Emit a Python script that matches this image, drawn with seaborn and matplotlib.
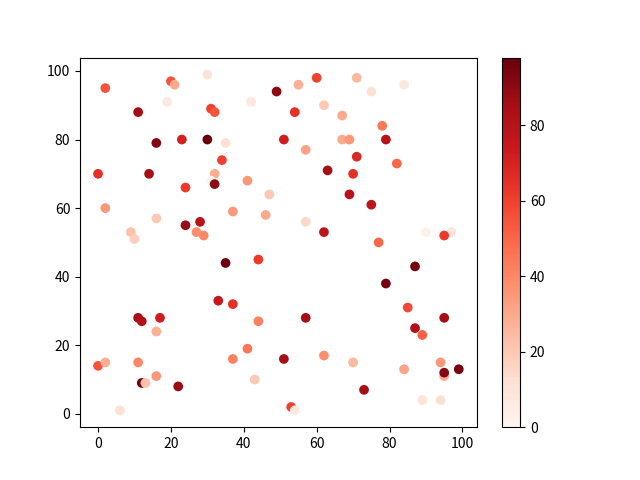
import matplotlib
matplotlib.use("Agg")
import matplotlib.pyplot as plt
import numpy as np
import pandas as pd
import seaborn as sns

plt.rcParams["font.family"] = ["Noto Sans CJK SC", "DejaVu Sans"]

# point positions and colour values
x = [2, 20, 21, 30, 49, 19, 42, 31, 32, 11, 16, 23, 30, 35, 34, 0, 14, 32, 24, 31,
     32, 41, 47, 2, 16, 37, 46, 24, 28, 27, 29, 9, 10,
     55, 60, 71, 84, 75, 54, 62, 67, 78, 51, 67, 69, 79, 57, 71, 82, 63, 70, 69,
     75, 57, 62, 90, 97, 95, 77,
     35, 44, 33, 37, 11, 12, 17, 16, 44, 41, 37, 0, 2, 11, 16, 12, 13, 22, 43, 6, 51,
     87, 79, 85, 57, 95, 87, 89, 62, 70, 84, 94, 95, 95, 99, 73, 89, 94, 53, 54]
y = [95, 97, 96, 99, 94, 91, 91, 89, 88, 88, 79, 80, 80, 79, 74, 70, 70, 70, 66, 68,
     67, 68, 64, 60, 57, 59, 58, 55, 56, 53, 52, 53, 51,
     96, 98, 98, 96, 94, 88, 90, 87, 84, 80, 80, 80, 80, 77, 75, 73, 71, 70, 64,
     61, 56, 53, 53, 53, 52, 50,
     44, 45, 33, 32, 28, 27, 28, 24, 27, 19, 16, 14, 15, 15, 11, 9, 9, 8, 10, 1, 16,
     43, 38, 31, 28, 28, 25, 23, 17, 15, 13, 15, 11, 12, 13, 7, 4, 4, 2, 1]
c = [55, 55, 30, 10, 90, 8, 8, 60, 55, 85, 92, 70, 98, 12, 60, 65, 85, 28, 62, 0,
     90, 35, 20, 35, 20, 35, 30, 88, 80, 38, 40, 22, 18,
     28, 60, 25, 8, 12, 65, 20, 30, 45, 72, 30, 35, 80, 32, 68, 50, 85, 65, 80,
     78, 15, 78, 3, 10, 62, 50,
     97, 62, 75, 65, 85, 82, 72, 28, 42, 45, 42, 55, 28, 40, 35, 95, 22, 88, 20, 12, 85,
     95, 95, 58, 85, 85, 82, 52, 38, 25, 32, 35, 28, 92, 95, 85, 10, 12, 60, 8]

df = pd.DataFrame({"x": x, "y": y, "c": c})
vmin, vmax = min(c), max(c)

fig, ax = plt.subplots(figsize=(6.4, 4.8), dpi=100)
sns.scatterplot(data=df, x="x", y="y", hue="c", palette="Reds",
                hue_norm=(vmin, vmax), s=49, linewidth=0, legend=False, ax=ax)
ax.set_xlabel("")
ax.set_ylabel("")

sm = plt.cm.ScalarMappable(cmap="Reds", norm=plt.Normalize(vmin, vmax))
fig.colorbar(sm, ax=ax)

fig.savefig("out.png", dpi=100)
